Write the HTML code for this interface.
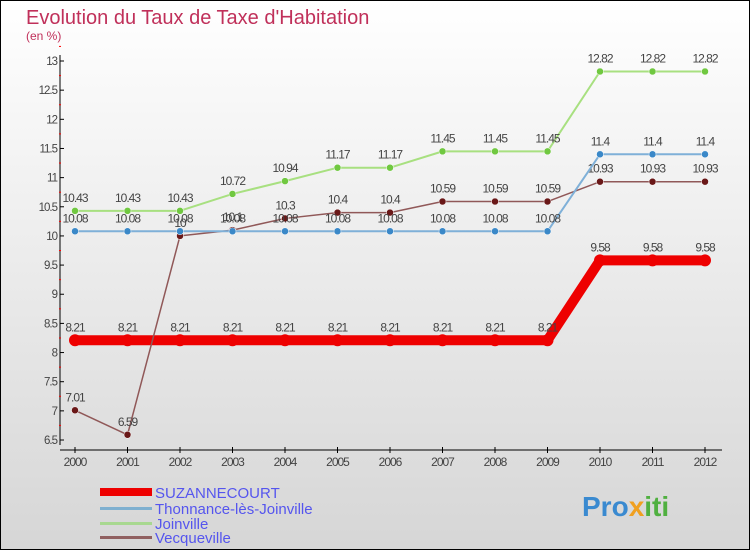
<!DOCTYPE html>
<html><head><meta charset="utf-8"><style>
body{margin:0}
svg{display:block;font-family:"Liberation Sans",sans-serif}
</style></head><body>
<svg id="c" width="750" height="550" viewBox="0 0 750 550">
<defs><linearGradient id="bg" x1="0" y1="0" x2="0" y2="1"><stop offset="0" stop-color="#ffffff"/><stop offset="1" stop-color="#d6d6d6"/></linearGradient></defs>
<rect x="0.5" y="0.5" width="749" height="549" fill="url(#bg)" stroke="#000"/>
<text x="26" y="24" font-size="20" fill="#c0305a">Evolution du Taux de Taxe d'Habitation</text>
<text x="26" y="40" font-size="12" fill="#c0305a">(en %)</text>
<g id="axes"></g><g id="series"></g>
<g>
<rect x="100" y="488" width="52" height="8" fill="#ee0000"/>
<text x="155" y="498" font-size="15" fill="#5555ee">SUZANNECOURT</text>
<rect x="100" y="507" width="52" height="3" fill="#7fb0d0"/>
<text x="155" y="514" font-size="15" fill="#5555ee">Thonnance-lès-Joinville</text>
<rect x="100" y="522" width="52" height="3" fill="#a8d890"/>
<text x="155" y="529" font-size="15" fill="#5555ee">Joinville</text>
<rect x="100" y="536" width="52" height="3" fill="#906060"/>
<text x="155" y="543" font-size="15" fill="#5555ee">Vecqueville</text>
</g>
<text x="582" y="516" font-size="28" font-weight="bold" fill="#3a8ad0">Pro<tspan fill="#f0a020">x</tspan><tspan fill="#50b040">iti</tspan></text>
</svg>
<script>
const years=[2000,2001,2002,2003,2004,2005,2006,2007,2008,2009,2010,2011,2012];
const suz=[8.21,8.21,8.21,8.21,8.21,8.21,8.21,8.21,8.21,8.21,9.58,9.58,9.58];
const thon=[10.08,10.08,10.08,10.08,10.08,10.08,10.08,10.08,10.08,10.08,11.4,11.4,11.4];
const join=[10.43,10.43,10.43,10.72,10.94,11.17,11.17,11.45,11.45,11.45,12.82,12.82,12.82];
const vecq=[7.01,6.59,10,10.1,10.3,10.4,10.4,10.59,10.59,10.59,10.93,10.93,10.93];
const yTicks=["6.5","7","7.5","8","8.5","9","9.5","10","10.5","11","11.5","12","12.5","13"];
const NS="http://www.w3.org/2000/svg";
const x=i=>75+i*52.5;
const y=v=>61+(13-v)*58.31;
function mk(t,a,p){const e=document.createElementNS(NS,t);for(const k in a)e.setAttribute(k,a[k]);p.appendChild(e);return e;}
const ax=document.getElementById('axes');
let e=mk('line',{x1:60,y1:55,x2:60,y2:445,stroke:'#000'},ax);


e=mk('line',{x1:60,y1:450,x2:722,y2:450,stroke:'#000'},ax);


yTicks.forEach(t=>{const v=parseFloat(t),yy=y(v);
mk('line',{x1:60,y1:yy,x2:64,y2:yy,stroke:'#000'},ax);
mk('line',{x1:59,y1:y(v+0.25),x2:61,y2:y(v+0.25),stroke:'#f00'},ax);
const l=mk('text',{x:57,y:yy+4,'font-size':11.5,'text-anchor':'end',fill:'#444','letter-spacing':'-1'},ax);l.textContent=t;

});
years.forEach((yr,i)=>{mk('line',{x1:x(i),y1:447,x2:x(i),y2:453,stroke:'#000'},ax);
const l=mk('text',{x:x(i),y:466,'font-size':12,'text-anchor':'middle',fill:'#444','letter-spacing':'-1'},ax);l.textContent=yr;

});
const sg=document.getElementById('series');
function series(name,data,color,w,dot,r,sw){
const g=mk('g',{},sg);


mk('polyline',{points:data.map((v,i)=>x(i)+','+y(v)).join(' '),fill:'none',stroke:color,'stroke-width':w,'stroke-linejoin':'round'},g);
data.forEach((v,i)=>{const c=mk('circle',{cx:x(i),cy:y(v),r:r,fill:dot,stroke:'#fff','stroke-width':sw},g);


const t=mk('text',{x:x(i),y:y(v)-9,'font-size':12,'text-anchor':'middle',fill:'#444','letter-spacing':'-1'},g);t.textContent=String(v);

});}
series('suzannecourt',suz,'#ee0000',10,'#ee0000',6,0);
series('joinville',join,'#a8e080',2,'#70c840',3.5,0.5);
series('vecqueville',vecq,'#905858',1.5,'#6a1818',3.5,0.5);
series('thonnance',thon,'#7fb0d8',2,'#3a88c8',3.5,0.5);
</script>
</body></html>
